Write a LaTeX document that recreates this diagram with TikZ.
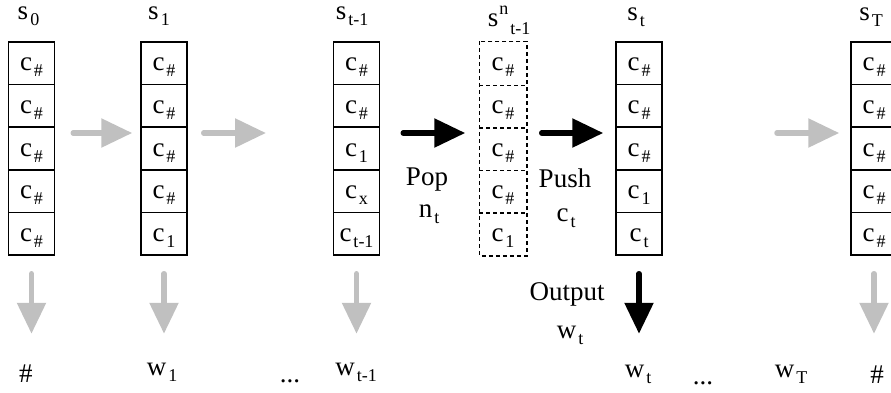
\documentclass[tikz,border=0pt]{standalone}
\usepackage{fontspec}
\setmainfont{Liberation Serif}
\usetikzlibrary{arrows.meta}
\definecolor{arrgray}{RGB}{192,192,192}
% lowered index, set in a smaller size
\newcommand\lo[2][-6pt]{\kern2pt\raisebox{#1}{\fontsize{18}{18}\selectfont #2}}
% raised index
\newcommand\hi[2][10pt]{\kern1pt\raisebox{#1}{\fontsize{18}{18}\selectfont #2}}
% one stack of five cells: name, x of centre, cell style, cell texts
\newcommand\drawstack[4]{%
  \foreach \ctext [count=\i] in {#4} {
    \node[#3] (#1-\i) at (#2, 42+42.6*\i-21.3) {\ctext};
  }%
}
\begin{document}
\begin{tikzpicture}[x=1pt,y=-1pt,
  font=\fontsize{27}{32}\selectfont,
  cell/.style={draw, line width=1.5pt, minimum width=46pt, minimum height=42.6pt,
    inner sep=0pt, text height=17pt, text depth=2pt},
  ghostcell/.style={cell, draw=none},
  dashline/.style={line width=1.5pt, dash pattern=on 4pt off 3pt},
  lbl/.style={anchor=base, inner sep=0pt},
  grayarr/.style={draw=arrgray, line width=5.5pt, line cap=round,
    -{Triangle[length=31pt,width=28pt]}},
  blackarr/.style={grayarr, draw=black},
]
\useasboundingbox (0,0) rectangle (891,392);

% stacks
\drawstack{s0}{31.5}{cell}{c\lo{\#},c\lo{\#},c\lo{\#},c\lo{\#},c\lo{\#}}
\drawstack{s1}{164}{cell}{c\lo{\#},c\lo{\#},c\lo{\#},c\lo{\#},c\lo{1}}
\drawstack{sp}{356.5}{cell}{c\lo{\#},c\lo{\#},c\lo{1},c\lo{x},c\lo{t-1}}
\drawstack{sn}{503}{ghostcell}{c\lo{\#},c\lo{\#},c\lo{\#},c\lo{\#},c\lo{1}}
\drawstack{st}{639}{cell}{c\lo{\#},c\lo{\#},c\lo{\#},c\lo{1},c\lo{t}}
\drawstack{sT}{874}{cell}{c\lo{\#},c\lo{\#},c\lo{\#},c\lo{\#},c\lo{\#}}

% the popped stack, outlined in dashes
\draw[dashline] (sn-1.north west) rectangle (sn-5.south east);
\foreach \i in {1,...,4} {
  \draw[dashline] (sn-\i.south west) -- (sn-\i.south east);
}

% stack names
\node[lbl] (n0) at (28.5,19) {s\lo{0}};
\node[lbl] (n1) at (159,19) {s\lo{1}};
\node[lbl] (np) at (352,19) {s\lo{t-1}};
\node[lbl] (nn) at (509,26) {s\hi[12pt]{n}\lo[-8pt]{t-1}};
\node[lbl] (nt) at (636,20) {s\lo{t}};
\node[lbl] (nT) at (871,20) {s\lo{T}};

% transitions between stacks
\coordinate (g1) at (266,133);
\coordinate (g2) at (777,133);
\draw[grayarr] ([xshift=18pt,yshift=15.5pt]s0-3.east) -- ([xshift=-8pt,yshift=15.5pt]s1-3.west);
\draw[grayarr] ([xshift=16pt,yshift=15.5pt]s1-3.east) -- (g1);
\draw[blackarr] ([xshift=23pt,yshift=15.5pt]sp-3.east) -- ([xshift=-14pt,yshift=15.5pt]sn-3.west);
\draw[blackarr] ([xshift=15pt,yshift=15.5pt]sn-3.east) -- ([xshift=-12pt,yshift=15.5pt]st-3.west);
\draw[grayarr] (g2) -- ([xshift=-11pt,yshift=15.5pt]sT-3.west);

\node[lbl] (pop) at (427,185) {Pop};
\node[lbl] (popn) at (429,217) {n\lo{t}};
\node[lbl] (push) at (565,187) {Push};
\node[lbl] (pushc) at (566,221) {c\lo{t}};

% outputs
\draw[grayarr] ([yshift=-18pt]s0-5.south) -- ++(0,60);
\draw[grayarr] ([yshift=-18pt]s1-5.south) -- ++(0,60);
\draw[grayarr] ([yshift=-18pt]sp-5.south) -- ++(0,60);
\draw[blackarr] ([yshift=-18pt]st-5.south) -- ++(0,60);
\draw[grayarr] ([yshift=-18pt]sT-5.south) -- ++(0,60);

\node[lbl] (out) at (567,300) {Output};
\node[lbl] (outw) at (570,338) {w\lo{t}};

\node[lbl] (w0) at (26,382) {\#};
\node[lbl] (w1) at (162,375) {w\lo{1}};
\node[lbl] (d1) at (290,382) {...};
\node[lbl] (wp) at (356,375) {w\lo{t-1}};
\node[lbl] (wt) at (638,377) {w\lo{t}};
\node[lbl] (d2) at (703,384) {...};
\node[lbl] (wT) at (791,377) {w\lo{T}};
\node[lbl] (wE) at (877,383) {\#};
\end{tikzpicture}
\end{document}
